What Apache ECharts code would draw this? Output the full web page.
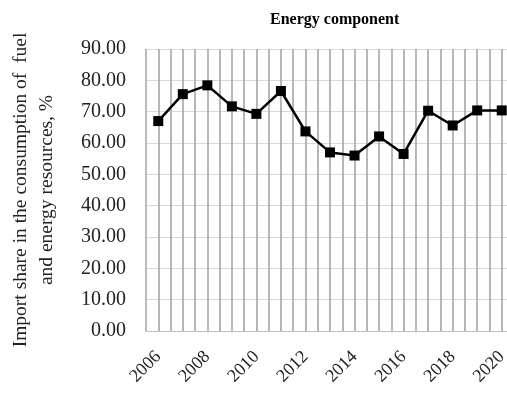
<!DOCTYPE html>
<html lang="en">
<head>
    <meta charset="UTF-8">
    <title>Energy component</title>
    <script src="https://cdn.jsdelivr.net/npm/echarts@6/dist/echarts.min.js"></script>
    <style>
        body { margin: 0; background: #fff; }
    </style>
</head>
<body>
<div id="main" style="width: 507px;height: 403px;"></div>
<script type="text/javascript">
    // years on the x axis
    var years = ['2006','2007','2008','2009','2010','2011','2012','2013','2014','2015','2016','2017','2018','2019','2020'];
    // import share, %
    var importShare = [67.0, 75.6, 78.4, 71.7, 69.3, 76.6, 63.7, 57.0, 56.0, 62.1, 56.5, 70.3, 65.6, 70.4, 70.4];
    // y axis range
    var yMin = 0;
    var yMax = 90;
    var yStep = 10;

    var serif = '"Liberation Serif", "Times New Roman", serif';
    var myChart = echarts.init(document.getElementById('main'));

    myChart.setOption({
        animation: false,
        title: {
            text: 'Energy component',
            left: 265,
            top: 7,
            textStyle: {
                fontFamily: serif,
                fontWeight: 'bold',
                fontSize: 16,
                color: '#000'
            }
        },
        // plot runs past the right edge of the picture, as in the original
        grid: {
            left: 146,
            top: 49,
            width: 368,
            bottom: 72,
            containLabel: false,
            outerBoundsMode: 'none'
        },
        xAxis: [{
            type: 'category',
            data: years,
            boundaryGap: true,
            axisLine: { show: true, lineStyle: { color: '#bfbfbf', width: 1 } },
            axisTick: { show: false },
            splitLine: { show: false },
            axisLabel: {
                interval: 1,
                rotate: 45,
                margin: 23,
                fontFamily: serif,
                fontSize: 18,
                color: '#222'
            }
        }, {
            // half-category grid, vertical lines at boundaries and centres
            type: 'value',
            position: 'bottom',
            min: 0,
            max: years.length * 2,
            interval: 1,
            axisLine: { show: false },
            axisTick: { show: false },
            axisLabel: { show: false },
            splitLine: { show: true, lineStyle: { color: '#a6a6a6', width: 1.6 } }
        }],
        yAxis: {
            type: 'value',
            min: yMin,
            max: yMax,
            interval: yStep,
            name: 'Import share in the consumption of  fuel\nand energy resources, %',
            nameLocation: 'middle',
            nameGap: 86,
            nameRotate: 90,
            nameTextStyle: {
                fontFamily: serif,
                fontSize: 19.5,
                lineHeight: 26,
                color: '#222'
            },
            axisLine: { show: true, lineStyle: { color: '#bfbfbf', width: 1 } },
            axisTick: { show: false },
            axisLabel: {
                margin: 20,
                fontFamily: serif,
                fontSize: 20,
                color: '#222',
                formatter: function (v) { return v.toFixed(2); }
            },
            splitLine: { show: true, lineStyle: { color: '#d9d9d9', width: 1 } }
        },
        series: [{
            name: 'Import share',
            type: 'line',
            xAxisIndex: 0,
            data: importShare,
            symbol: 'rect',
            symbolSize: 10,
            itemStyle: { color: '#000' },
            lineStyle: { color: '#000', width: 2.5 },
            z: 5
        }]
    });
</script>
</body>
</html>
